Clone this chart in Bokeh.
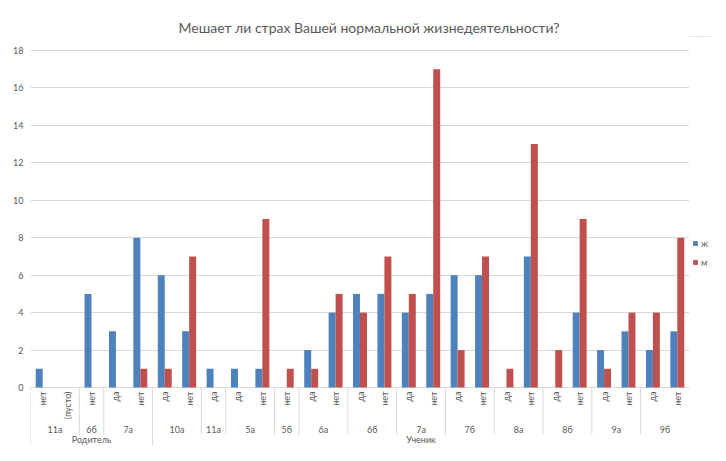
from bokeh.plotting import figure
from bokeh.layouts import row
from bokeh.models import FactorRange, Range1d, FixedTicker, ColumnDataSource, Legend, LegendItem
from bokeh.transform import dodge
from bokeh.core.properties import value
from bokeh.embed import file_html
from bokeh.resources import INLINE
import math

# ---------------- data ----------------
title_text = "Мешает ли страх Вашей нормальной жизнедеятельности?"
level1 = ["Родитель"] * 5 + ["Ученик"] * 22
level2 = ["11а", "11а", "6б", "7а", "7а",
          "10а", "10а", "11а", "5а", "5а", "5б", "6а", "6а", "6б", "6б",
          "7а", "7а", "7б", "7б", "8а", "8а", "8б", "8б", "9а", "9а", "9б", "9б"]
level3 = ["нет", "(пусто)", "нет", "да", "нет",
          "да", "нет", "да", "да", "нет", "нет", "да", "нет", "да", "нет",
          "да", "нет", "да", "нет", "да", "нет", "да", "нет", "да", "нет", "да", "нет"]
zh = [1, 0, 5, 3, 8, 6, 3, 1, 1, 1, 0, 2, 4, 5, 5, 4, 5, 6, 6, 0, 7, 0, 4, 2, 3, 2, 3]
m = [0, 0, 0, 0, 1, 1, 7, 0, 0, 9, 1, 1, 5, 4, 7, 5, 17, 2, 7, 1, 13, 2, 9, 1, 4, 4, 8]
y_ticks = [0, 2, 4, 6, 8, 10, 12, 14, 16, 18]
series_names = ["ж", "м"]
colors = ["#4F81BD", "#C0504D"]

# ---------------- layout constants ----------------
W, H = 689, 445
LEG_W = 21
B_LEFT, B_TOP = 30, 36
Y0_PX, Y18_PX = 387, 50
px_per_unit = (Y0_PX - Y18_PX) / 18.0
y_end = 18 + (Y18_PX - B_TOP) / px_per_unit
y_start = -(H - Y0_PX) / px_per_unit
GRAY_TXT = "#595959"
GRID = "#d9d9d9"
FONT = "Lato"
FS = "9px"

factors = [(a, b, c) for a, b, c in zip(level1, level2, level3)]
src = ColumnDataSource(dict(x=factors, zh=zh, m=m))
xr = FactorRange(*factors, factor_padding=0, subgroup_padding=0,
                 group_padding=0, range_padding=0)

p = figure(width=W, height=H, output_backend="svg", toolbar_location=None,
           x_range=xr, y_range=Range1d(y_start, y_end), x_axis_location=None,
           min_border_left=B_LEFT, min_border_right=0,
           min_border_top=B_TOP, min_border_bottom=0)
p.outline_line_color = None
p.xgrid.visible = False
p.ygrid.ticker = FixedTicker(ticks=y_ticks)
p.ygrid.grid_line_color = GRID
p.ygrid.grid_line_width = 1

ax = p.yaxis[0]
ax.ticker = FixedTicker(ticks=y_ticks)
ax.axis_line_color = None
ax.major_tick_line_color = None
ax.minor_tick_line_color = None
ax.major_tick_out = 0
ax.major_tick_in = 0
ax.major_label_standoff = 7
ax.major_label_text_font = FONT
ax.major_label_text_font_size = FS
ax.major_label_text_color = GRAY_TXT

p.title.text = title_text
p.title.align = "left"
p.title.text_font = FONT
p.title.text_font_size = "14px"
p.title.text_font_style = "normal"
p.title.text_color = GRAY_TXT
p.title.standoff = 2
p.title.offset = 148

bw = 1 / 3.5
p.vbar(x=dodge("x", -bw / 2, range=xr), top="zh", width=bw, bottom=0,
       source=src, fill_color=colors[0], line_color=None)
p.vbar(x=dodge("x", bw / 2, range=xr), top="m", width=bw, bottom=0,
       source=src, fill_color=colors[1], line_color=None)

# level-3 labels (vertical)
p.text(x="x", y=0, text="t", source=ColumnDataSource(dict(x=factors, t=level3)),
       angle=math.pi / 2, text_align="right", text_baseline="middle", y_offset=4,
       text_font=value(FONT), text_font_size=FS, text_color=GRAY_TXT)

# level-2 labels
g2, g2t = [], []
for a, b in zip(level1, level2):
    if not g2 or g2[-1] != (a, b):
        g2.append((a, b))
        g2t.append(b)
p.text(x="x", y=0, text="t", source=ColumnDataSource(dict(x=g2, t=g2t)),
       text_align="center", text_baseline="middle", y_offset=42,
       text_font=value(FONT), text_font_size=FS, text_color=GRAY_TXT)

# level-1 labels
g1 = []
for a in level1:
    if not g1 or g1[-1] != a:
        g1.append(a)
p.text(x="x", y=0, text="t", source=ColumnDataSource(dict(x=g1, t=g1)),
       text_align="center", text_baseline="middle", y_offset=52,
       text_font=value(FONT), text_font_size=FS, text_color=GRAY_TXT)

# separators
short_y = -47 / px_per_unit
sx, sy = [], []
for i, f in enumerate(factors):
    if i == 0 or level1[i] != level1[i - 1]:
        sx.append(list(f) + [-0.5]); sy.append(y_start)
    elif level2[i] != level2[i - 1]:
        sx.append(list(f) + [-0.5]); sy.append(short_y)
sx.append(list(factors[-1]) + [0.5]); sy.append(y_start)
p.segment(x0="x", x1="x", y0=0, y1="y", source=ColumnDataSource(dict(x=sx, y=sy)),
          line_color=GRID, line_width=1)

# ---------------- legend panel (same series, drawn out of view) ----------------
pl = figure(width=LEG_W, height=H, output_backend="svg", toolbar_location=None,
            x_range=xr, y_range=Range1d(-2, -1),
            x_axis_location=None, y_axis_location=None,
            min_border_left=0, min_border_right=0, min_border_top=0, min_border_bottom=0)
pl.outline_line_color = None
pl.grid.visible = False
l1 = pl.vbar(x="x", top="zh", width=bw, bottom=0, source=src,
             fill_color=colors[0], line_color=None)
l2 = pl.vbar(x="x", top="m", width=bw, bottom=0, source=src,
             fill_color=colors[1], line_color=None)
legend = Legend(items=[LegendItem(label=series_names[0], renderers=[l1]),
                       LegendItem(label=series_names[1], renderers=[l2])],
                location=(3, 177), orientation="vertical")
legend.padding = 0
legend.margin = 0
legend.border_line_color = None
legend.background_fill_alpha = 0
legend.glyph_width = 6
legend.glyph_height = 6
legend.label_height = 12
legend.spacing = 7
legend.label_standoff = 3
legend.label_text_font = FONT
legend.label_text_font_size = FS
legend.label_text_color = GRAY_TXT
pl.add_layout(legend)

layout = row(p, pl, spacing=0)
open("out.html", "w").write(file_html(layout, INLINE))
